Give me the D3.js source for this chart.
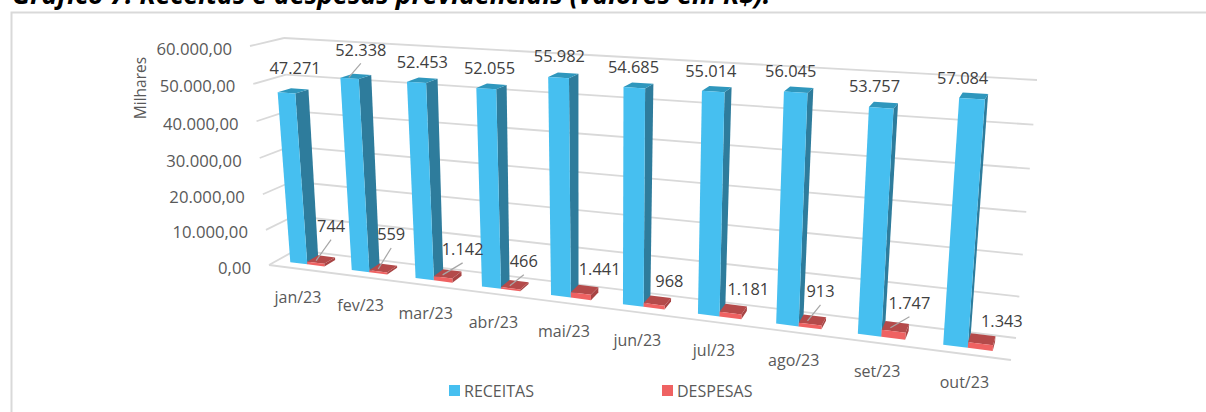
<!DOCTYPE html>
<html>
<head>
<meta charset="utf-8">
<script src="https://cdn.jsdelivr.net/npm/d3@7"></script>
<style>
  html, body { margin: 0; padding: 0; background: #fff; overflow: hidden; }
  text { font-family: "Open Sans", sans-serif; }
</style>
</head>
<body>
<svg id="chart" width="1206" height="412"></svg>
<script>
const categorias = ['jan/23', 'fev/23', 'mar/23', 'abr/23', 'mai/23', 'jun/23', 'jul/23', 'ago/23', 'set/23', 'out/23'];
const receitas = [47271, 52338, 52453, 52055, 55982, 54685, 55014, 56045, 53757, 57084];
const despesas = [744, 559, 1142, 466, 1441, 968, 1181, 913, 1747, 1343];
const seriesNomes = ['RECEITAS', 'DESPESAS'];

// hand placed data labels, offset from the top of each bar
const receitaDx = [2, 5, 0, -2, -4, -5, -6, -8, -9, -11];
const receitaDy = [-23, -27, -19, -19, -20, -19, -19, -19, -20, -19];
const despesaDx = [10, 8, 15, 9, 15, 12, 15, 8, 14, 20];
const despesaDy = [-34, -34, -25, -24, -21, -20, -21, -29, -24, -19];
const receitaLeader = [false, true, false, false, false, false, false, false, false, false];
const despesaLeader = [true, true, true, true, false, false, false, true, true, false];

const locale = d3.formatLocale({ decimal: ',', thousands: '.', grouping: [3], currency: ['R$', ''] });
const fmtTick = locale.format(',.2f');
const fmtLabel = locale.format(',d');

const svg = d3.select('#chart');

// corners of the 3D box on screen: [front/back][left/right][floor/top]
const box = {
  fl0: [269, 265], fl1: [250, 46],
  bl0: [296, 250], bl1: [284, 38],
  fr0: [1011, 360], fr1: [1031, 93],
  br0: [1016, 338], br1: [1037, 80],
};

const x = d3.scaleBand().domain(categorias).range([0, 1]).paddingInner(0.44).paddingOuter(0.22);
const xSerie = d3.scaleBand().domain(seriesNomes).range([0, x.bandwidth()]);
const y = d3.scaleLinear().domain([0, 60000]).range([0, 1]);

// perspective: things get bigger to the right and towards the top
const warp = (t, k) => t / (t + k * (1 - t));
const lerp = (a, b, t) => [a[0] + (b[0] - a[0]) * t, a[1] + (b[1] - a[1]) * t];

function project(t, d, v) {
  const s = warp(t, 1.23);
  const h = warp(y(v), 1.047);
  const f = lerp(lerp(box.fl0, box.fr0, s), lerp(box.fl1, box.fr1, s), h);
  const b = lerp(lerp(box.bl0, box.br0, s), lerp(box.bl1, box.br1, s), h);
  return lerp(f, b, d);
}

const poly = d3.line();
const gridColor = '#d9d9d9';

// outer frame, runs off the right and the bottom of the picture
svg.append('path')
  .attr('d', 'M1206,12.5H11.5V412')
  .attr('fill', 'none')
  .attr('stroke', '#d9d9d9')
  .attr('stroke-width', 2);

// title, cut by the top of the picture
svg.append('text')
  .attr('x', 12)
  .attr('y', 4)
  .attr('font-size', 26.6)
  .attr('font-weight', 700)
  .attr('font-style', 'italic')
  .attr('fill', '#000')
  .text('Gráfico 7: Receitas e despesas previdenciais (valores em R$).');

// gridlines: left wall then back wall
const ticks = y.ticks(6);
svg.selectAll('.grid-left')
  .data(ticks)
  .enter()
  .append('path')
  .attr('class', 'grid-left')
  .attr('d', (v) => poly([project(0, 0, v), project(0, 1, v)]))
  .attr('fill', 'none')
  .attr('stroke', gridColor)
  .attr('stroke-width', 1.8);

svg.selectAll('.grid-back')
  .data(ticks)
  .enter()
  .append('path')
  .attr('class', 'grid-back')
  .attr('d', (v) => poly([project(0, 1, v), project(1, 1, v)]))
  .attr('fill', 'none')
  .attr('stroke', gridColor)
  .attr('stroke-width', 1.8);

// floor front edge
svg.append('path')
  .attr('d', poly([project(0, 0, 0), project(1, 0, 0)]))
  .attr('fill', 'none')
  .attr('stroke', gridColor)
  .attr('stroke-width', 1.8);

// y axis labels follow the front edge of the left wall
svg.selectAll('.tick-label')
  .data(ticks)
  .enter()
  .append('text')
  .attr('class', 'tick-label')
  .attr('x', (v) => project(0, 0, v)[0] - 18)
  .attr('y', (v) => project(0, 0, v)[1] + 2)
  .attr('text-anchor', 'end')
  .attr('dominant-baseline', 'central')
  .attr('font-size', 16.7)
  .attr('fill', '#595959')
  .text((v) => fmtTick(v));

svg.append('text')
  .attr('transform', 'translate(140,88) rotate(-90)')
  .attr('text-anchor', 'middle')
  .attr('dominant-baseline', 'central')
  .attr('font-size', 15.5)
  .attr('fill', '#595959')
  .text('Milhares');

// bar depth on the floor
const d0 = 0.3;
const d1 = 0.72;

function barFaces(cat, serie, v) {
  const a = x(cat) + xSerie(serie);
  const b = a + xSerie.bandwidth();
  return {
    front: [project(a, d0, 0), project(b, d0, 0), project(b, d0, v), project(a, d0, v)],
    side: [project(b, d0, 0), project(b, d1, 0), project(b, d1, v), project(b, d0, v)],
    top: [project(a, d0, v), project(b, d0, v), project(b, d1, v), project(a, d1, v)],
  };
}

const estilos = {
  RECEITAS: { front: '#46bff0', side: '#2e7c9c', top: '#2f97bd' },
  DESPESAS: { front: '#ef6262', side: '#a84444', top: '#b44a4a' },
};

const linhas = categorias.flatMap((cat, i) => [
  { cat, i, serie: 'RECEITAS', v: receitas[i] },
  { cat, i, serie: 'DESPESAS', v: despesas[i] },
]);

const bars = svg.selectAll('.bar')
  .data(linhas)
  .enter()
  .append('g')
  .attr('class', 'bar');

['side', 'top', 'front'].forEach((face) => {
  bars.append('path')
    .attr('d', (d) => poly(barFaces(d.cat, d.serie, d.v)[face]) + 'Z')
    .attr('fill', (d) => estilos[d.serie][face]);
});

// anchor of a data label: middle of the top face
function topCenter(d) {
  const a = x(d.cat) + xSerie(d.serie) + xSerie.bandwidth() / 2;
  return project(a, (d0 + d1) / 2, d.v);
}
const labelDx = (d) => (d.serie === 'RECEITAS' ? receitaDx : despesaDx)[d.i];
const labelDy = (d) => (d.serie === 'RECEITAS' ? receitaDy : despesaDy)[d.i];
const hasLeader = (d) => (d.serie === 'RECEITAS' ? receitaLeader : despesaLeader)[d.i];

svg.selectAll('.leader')
  .data(linhas.filter(hasLeader))
  .enter()
  .append('line')
  .attr('class', 'leader')
  .attr('x1', (d) => topCenter(d)[0] - (d.serie === 'RECEITAS' ? 7 : 5))
  .attr('y1', (d) => topCenter(d)[1] + 1)
  .attr('x2', (d) => topCenter(d)[0] + labelDx(d))
  .attr('y2', (d) => topCenter(d)[1] + labelDy(d) + 14)
  .attr('stroke', '#a6a6a6')
  .attr('stroke-width', 1.2);

svg.selectAll('.data-label')
  .data(linhas)
  .enter()
  .append('text')
  .attr('class', 'data-label')
  .attr('x', (d) => topCenter(d)[0] + labelDx(d))
  .attr('y', (d) => topCenter(d)[1] + labelDy(d))
  .attr('text-anchor', 'middle')
  .attr('dominant-baseline', 'central')
  .attr('font-size', 16.4)
  .attr('fill', '#404040')
  .text((d) => fmtLabel(d.v));

// category labels under the floor front edge
svg.selectAll('.cat-label')
  .data(categorias)
  .enter()
  .append('text')
  .attr('class', 'cat-label')
  .attr('x', (c) => project(x(c) + x.bandwidth() / 2, 0, 0)[0] - 1.5)
  .attr('y', (c) => project(x(c) + x.bandwidth() / 2, 0, 0)[1] + 28)
  .attr('text-anchor', 'middle')
  .attr('dominant-baseline', 'central')
  .attr('font-size', 16)
  .attr('fill', '#595959')
  .text((c) => c);

// legend
const legendX = d3.scaleOrdinal().domain(seriesNomes).range([449, 662]);
const legend = svg.selectAll('.legend')
  .data(seriesNomes)
  .enter()
  .append('g')
  .attr('class', 'legend')
  .attr('transform', (s) => `translate(${legendX(s)},385)`);

legend.append('rect')
  .attr('width', 11)
  .attr('height', 11)
  .attr('fill', (s) => estilos[s].front);

legend.append('text')
  .attr('x', 15)
  .attr('y', 6)
  .attr('dominant-baseline', 'central')
  .attr('font-size', 16)
  .attr('fill', '#595959')
  .text((s) => s);
</script>
</body>
</html>
